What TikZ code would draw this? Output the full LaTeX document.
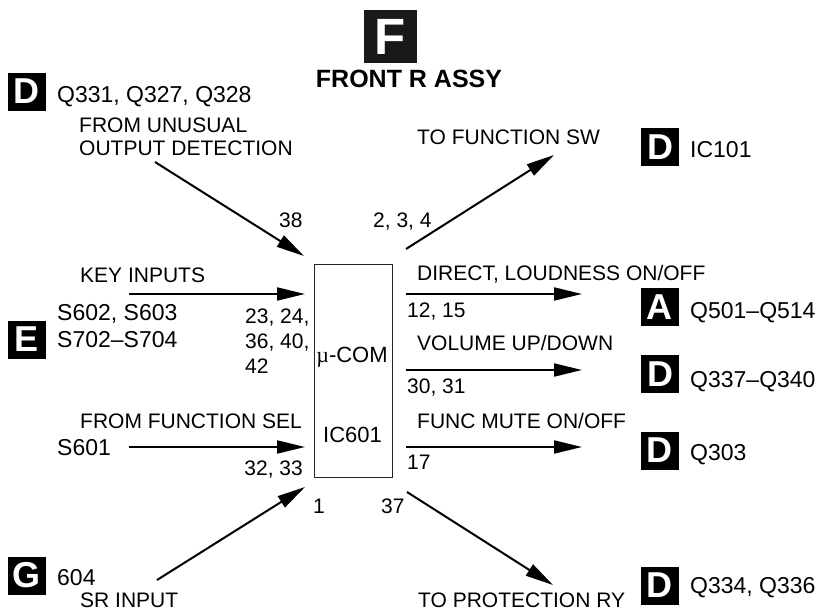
\documentclass[tikz,border=0pt]{standalone}
\usepackage{fontspec}
\setmainfont{Liberation Sans}
\newfontfamily\mufont{Liberation Serif}
\usetikzlibrary{arrows.meta}

\newcommand\lblfont{\fontsize{21}{25}\selectfont}
\newcommand\partfont{\fontsize{23}{27}\selectfont}
\newcommand\tagfont{\bfseries\fontsize{36}{36}\selectfont}

\begin{document}
\begin{tikzpicture}[x=1pt,y=-1pt,
    every node/.style={inner sep=0pt},
    lbl/.style={anchor=base west,font=\lblfont},
    part/.style={anchor=base west,font=\partfont},
    tag/.style={fill=black,text=white,minimum size=38pt,font=\tagfont},
    sig/.style={line width=2pt,-{Triangle[length=28pt,width=13pt]}}]
  \useasboundingbox (0,0) rectangle (824,610);

  % title
  \node[fill=black!90,text=white,minimum size=53pt,
        font=\bfseries\fontsize{51}{51}\selectfont] (tagF) at (390.5,36.5) {F};
  \node[anchor=base,font=\bfseries\fontsize{25}{30}\selectfont] (title) at (409,87) {FRONT R ASSY};

  % micro computer
  \node[draw=black!85,line width=0.8pt,minimum width=78pt,minimum height=213pt] (mcu) at (353.5,370.5) {};
  \node[anchor=base,font=\fontsize{22}{26}\selectfont] (mcuname) at (352,362) {{\mufont µ}-COM};
  \node[anchor=base,font=\fontsize{22}{26}\selectfont] (mcuic) at (352.5,442) {IC601};

  % left side
  \node[tag] (tagD1) at (26.5,91.5) {D};
  \node[part] (q331) at (57,102) {Q331, Q327, Q328};
  \node[lbl] (det1) at (79,132) {FROM UNUSUAL};
  \node[lbl] (det2) at (79,155) {OUTPUT DETECTION};
  \node[lbl] (pin38) at (279,227) {38};

  \node[lbl] (key) at (80,282) {KEY INPUTS};
  \node[tag] (tagE) at (27,339.5) {E};
  \node[part] (s602) at (57,320) {S602, S603};
  \node[part] (s702) at (57,347) {S702–S704};
  \node[lbl] (pinkA) at (245,323) {23, 24,};
  \node[lbl] (pinkB) at (245,348) {36, 40,};
  \node[lbl] (pinkC) at (245,373) {42};

  \node[lbl] (sel) at (80,428) {FROM FUNCTION SEL};
  \node[part] (s601) at (57,455) {S601};
  \node[lbl,anchor=base east] (pinsel) at (303,475) {32, 33};

  \node[lbl] (pin1) at (313,513) {1};
  \node[tag] (tagG) at (27,575.5) {G};
  \node[part] (g604) at (57,585) {604};
  \node[lbl] (sr) at (80,607) {SR INPUT};

  % right side
  \node[lbl] (pinsw) at (373,227) {2, 3, 4};
  \node[lbl] (sw) at (417,144) {TO FUNCTION SW};
  \node[tag] (tagD2) at (660,147) {D};
  \node[part] (ic101) at (690,157) {IC101};

  \node[lbl] (ld) at (417,280) {DIRECT, LOUDNESS ON/OFF};
  \node[lbl] (pinld) at (407,317) {12, 15};
  \node[tag] (tagA) at (659.5,307) {A};
  \node[part] (q501) at (690,318) {Q501–Q514};

  \node[lbl] (vol) at (417,350) {VOLUME UP/DOWN};
  \node[lbl] (pinvol) at (407,393) {30, 31};
  \node[tag] (tagD3) at (660,374) {D};
  \node[part] (q337) at (690,387) {Q337–Q340};

  \node[lbl] (mute) at (417,428) {FUNC MUTE ON/OFF};
  \node[lbl] (pinmute) at (407,469) {17};
  \node[tag] (tagD4) at (659.5,450.5) {D};
  \node[part] (q303) at (690,460) {Q303};

  \node[lbl] (pin37) at (381,513) {37};
  \node[lbl] (prt) at (418,607) {TO PROTECTION RY};
  \node[tag] (tagD5) at (659.5,585.5) {D};
  \node[part] (q334) at (690,593) {Q334, Q336};

  % signal ends
  \coordinate (detIn) at (155,162);   \coordinate (detTip) at (304,256);
  \coordinate (keyIn) at (129,294);   \coordinate (keyTip) at (305,294);
  \coordinate (selIn) at (129,447);   \coordinate (selTip) at (305,447);
  \coordinate (srIn) at (157,580);    \coordinate (srTip) at (305,487);
  \coordinate (swOut) at (406,249);   \coordinate (swTip) at (554,155);
  \coordinate (ldOut) at (406,294);   \coordinate (ldTip) at (582,294);
  \coordinate (volOut) at (406,370);  \coordinate (volTip) at (582,370);
  \coordinate (muteOut) at (406,447); \coordinate (muteTip) at (582,447);
  \coordinate (prtOut) at (407,492);  \coordinate (prtTip) at (553,585);

  \draw[sig] (detIn) -- (detTip);
  \draw[sig] (keyIn) -- (keyTip);
  \draw[sig] (selIn) -- (selTip);
  \draw[sig] (srIn) -- (srTip);
  \draw[sig] (swOut) -- (swTip);
  \draw[sig] (ldOut) -- (ldTip);
  \draw[sig] (volOut) -- (volTip);
  \draw[sig] (muteOut) -- (muteTip);
  \draw[sig] (prtOut) -- (prtTip);
\end{tikzpicture}
\end{document}
